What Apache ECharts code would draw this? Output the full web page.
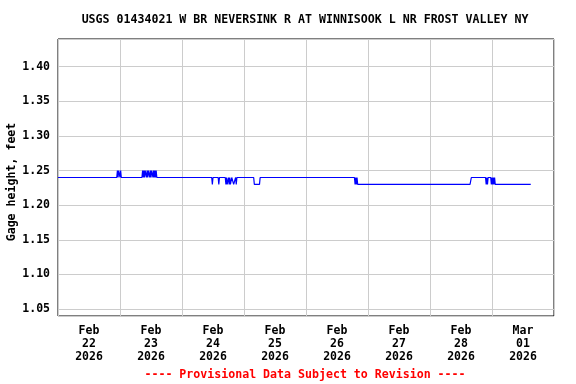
<!DOCTYPE html>
<html>
<head>
<meta charset="utf-8">
<script src="https://cdn.jsdelivr.net/npm/echarts@6/dist/echarts.min.js"></script>
<style>html,body{margin:0;padding:0;background:#fff;}#c{width:576px;height:384px;}</style>
</head>
<body>
<div id="c"></div>
<script>
const titleText = "USGS 01434021 W BR NEVERSINK R AT WINNISOOK L NR FROST VALLEY NY";
const yAxisName = "Gage height, feet";
const footnote = "---- Provisional Data Subject to Revision ----";
// day categories (labels centred on each day); x data in hours since Feb 22 2026 00:00
const dayLabels = ["Feb\n22\n2026","Feb\n23\n2026","Feb\n24\n2026","Feb\n25\n2026","Feb\n26\n2026","Feb\n27\n2026","Feb\n28\n2026","Mar\n01\n2026"];
const hours = [0,22.75,23,23.25,23.5,23.75,24,24.25,24.5,
  32.5,32.75,33,33.25,33.5,33.75,34,34.25,34.5,34.75,35,35.25,35.5,35.75,36,36.25,36.5,36.75,37,37.25,37.5,37.75,38,38.25,
  59.5,59.75,60,62,62.25,62.5,
  64.75,65,65.25,65.5,65.75,66,66.25,66.5,66.75,67,67.25,67.75,68,68.25,68.5,68.75,69,69.25,
  75.75,76,78,78.25,
  114.75,115,115.25,115.5,115.75,116,
  159.5,160,
  165.5,165.75,166,166.25,166.5,167.5,167.75,168,168.25,168.5,168.75,169,169.25,183];
const stage = [1.24,1.24,1.25,1.24,1.25,1.25,1.24,1.25,1.24,
  1.24,1.25,1.24,1.25,1.24,1.25,1.25,1.24,1.25,1.24,1.25,1.25,1.24,1.25,1.24,1.25,1.25,1.24,1.25,1.24,1.25,1.24,1.25,1.24,
  1.24,1.23,1.24,1.24,1.23,1.24,
  1.24,1.23,1.24,1.23,1.23,1.24,1.23,1.24,1.23,1.23,1.24,1.24,1.23,1.23,1.23,1.24,1.23,1.24,
  1.24,1.23,1.23,1.24,
  1.24,1.23,1.24,1.23,1.24,1.23,
  1.23,1.24,
  1.24,1.23,1.24,1.23,1.24,1.24,1.23,1.24,1.23,1.24,1.23,1.24,1.23,1.23];
const yMin = 1.04, yMax = 1.44, yStep = 0.05;

const FONT = "'DejaVu Sans Mono', monospace";
const chart = echarts.init(document.getElementById('c'), null, {renderer: 'canvas'});
chart.setOption({
  animation: false,
  backgroundColor: '#fff',
  graphic: [{
    type: 'text', x: 305, y: 20,
    style: {text: titleText, fontFamily: FONT, fontWeight: 'bold', fontSize: 11.6, fill: '#000', align: 'center', verticalAlign: 'middle'}
  }, {
    type: 'text', x: 305, y: 375,
    style: {text: footnote, fontFamily: FONT, fontWeight: 'bold', fontSize: 11.6, fill: '#ff0000', align: 'center', verticalAlign: 'middle'}
  }, {
    type: 'text', x: 12, y: 182, rotation: Math.PI / 2,
    style: {text: yAxisName, fontFamily: FONT, fontWeight: 'bold', fontSize: 11.6, fill: '#000', align: 'center', verticalAlign: 'middle'}
  }],
  grid: {left: 58, top: 39, right: 22, bottom: 68, outerBoundsMode: 'none', containLabel: false,
    show: true, borderColor: '#000', borderWidth: 1, backgroundColor: 'transparent'},
  xAxis: [{
    type: 'category', data: dayLabels, boundaryGap: true, position: 'bottom',
    axisLine: {show: false}, axisTick: {show: false},
    axisLabel: {fontFamily: FONT, fontWeight: 'bold', fontSize: 11.5, color: '#000', lineHeight: 13, margin: 9, interval: 0},
    splitLine: {show: true, lineStyle: {color: '#cccccc', width: 1}}
  }, {
    type: 'value', min: 0, max: 192, show: false
  }],
  yAxis: {
    type: 'value', min: yMin, max: yMax, splitNumber: 8, minInterval: yStep, maxInterval: yStep,
    axisLine: {show: false}, axisTick: {show: false},
    axisLabel: {fontFamily: FONT, fontWeight: 'bold', fontSize: 11.5, color: '#000', margin: 8,
      showMinLabel: false, showMaxLabel: false, formatter: v => v.toFixed(2)},
    splitLine: {show: true, lineStyle: {color: '#cccccc', width: 1}}
  },
  series: [{
    type: 'line', xAxisIndex: 1, data: hours.map((h, i) => [h, stage[i]]),
    showSymbol: false, symbol: 'none', lineStyle: {color: '#0000ff', width: 1.2}, z: 5
  }]
});
</script>
</body>
</html>
